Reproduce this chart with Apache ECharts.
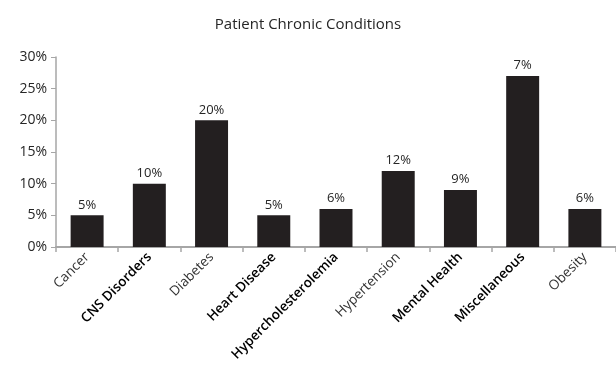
<!DOCTYPE html>
<html>
<head>
<meta charset="utf-8">
<script src="https://cdn.jsdelivr.net/npm/echarts@6/dist/echarts.min.js"></script>
<style>
  html, body { margin: 0; padding: 0; background: #fff; }
  #chart { width: 616px; height: 372px; }
</style>
</head>
<body>
<div id="chart"></div>
<script>
const categories = ['Cancer', 'CNS Disorders', 'Diabetes', 'Heart Disease', 'Hypercholesterolemia',
  'Hypertension', 'Mental Health', 'Miscellaneous', 'Obesity'];
const boldCats = ['CNS Disorders', 'Heart Disease', 'Hypercholesterolemia', 'Mental Health', 'Miscellaneous'];
const values = [5, 10, 20, 5, 6, 12, 9, 27, 6];
const labels = ['5%', '10%', '20%', '5%', '6%', '12%', '9%', '7%', '6%'];

const chart = echarts.init(document.getElementById('chart'));

chart.setOption({
  animation: false,
  textStyle: { fontFamily: 'Open Sans' },
  title: {
    text: 'Patient Chronic Conditions',
    left: 'center',
    top: 12,
    textStyle: { fontSize: 15, fontWeight: 'normal', color: '#262626', fontFamily: 'Open Sans' }
  },
  grid: { left: 56, right: -1, top: 57, bottom: 125 },
  xAxis: {
    type: 'category',
    data: categories,
    axisLine: { lineStyle: { color: '#a6a6a6', width: 2 } },
    axisTick: { show: true, length: 5, alignWithLabel: false, lineStyle: { color: '#a6a6a6', width: 1.5 } },
    axisLabel: {
      interval: 0,
      rotate: 45,
      margin: 8,
      formatter: v => boldCats.includes(v) ? '{b|' + v + '}' : '{n|' + v + '}',
      rich: {
        n: { fontSize: 13.5, color: '#333', fontFamily: 'Open Sans' },
        b: { fontSize: 13.5, color: '#000', fontFamily: 'Open Sans', fontWeight: 600 }
      }
    }
  },
  yAxis: {
    type: 'value',
    min: 0,
    max: 30,
    interval: 5,
    splitLine: { show: false },
    axisLine: { show: true, lineStyle: { color: '#a6a6a6', width: 1.5 } },
    axisTick: { show: true, length: 5, lineStyle: { color: '#a6a6a6' } },
    axisLabel: { formatter: '{value}%', fontSize: 14, color: '#262626', margin: 9 }
  },
  series: [{
    type: 'bar',
    data: values,
    barWidth: '53%',
    itemStyle: { color: '#231f20' },
    label: {
      show: true,
      position: 'top',
      distance: 4,
      fontSize: 13,
      color: '#262626',
      formatter: p => labels[p.dataIndex]
    }
  }]
});
</script>
</body>
</html>
